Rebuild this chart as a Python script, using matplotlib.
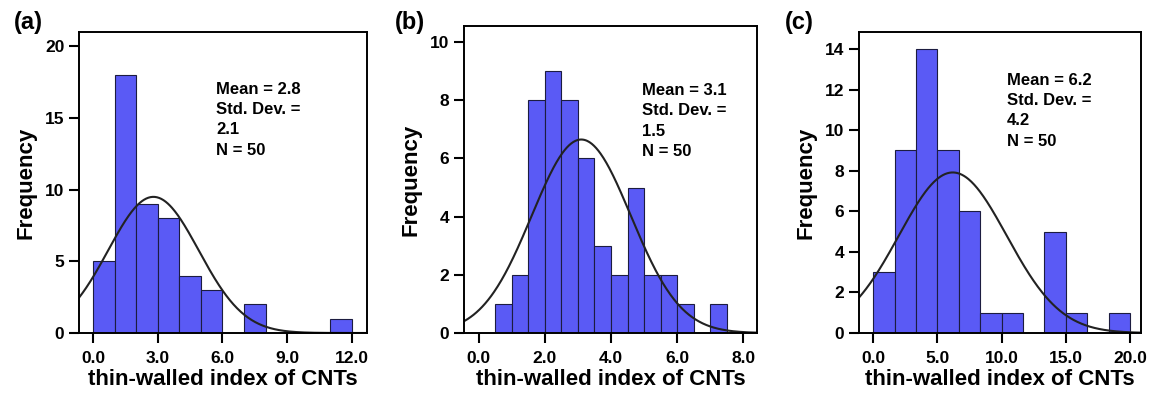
import numpy as np
import matplotlib
matplotlib.use("Agg")
import matplotlib.pyplot as plt
from matplotlib.ticker import FormatStrFormatter

plt.rcParams['font.family'] = ['Liberation Sans', 'DejaVu Sans']
plt.rcParams['font.weight'] = 'bold'

# panel (a)
edges_a = np.arange(0, 13, 1.0)
counts_a = [5, 18, 9, 8, 4, 3, 0, 2, 0, 0, 0, 1]
mean_a, sd_a, n_a = 2.8, 2.1, 50

# panel (b)
edges_b = np.arange(0.5, 7.51, 0.5)
counts_b = [1, 2, 8, 9, 8, 6, 3, 2, 5, 2, 2, 1, 0, 1]
mean_b, sd_b, n_b = 3.1, 1.5, 50

# panel (c)
edges_c = np.linspace(0, 20, 13)
counts_c = [3, 9, 14, 9, 6, 1, 1, 0, 5, 1, 0, 1]
mean_c, sd_c, n_c = 6.2, 4.2, 50

# label, edges, counts, mean, sd, n, xlim, ylim, xticks, yticks, axes box (px), stats text pos, panel label x
panels = [
    ("(a)", edges_a, counts_a, mean_a, sd_a, n_a, (-0.65, 12.7), (0, 21.0),
     [0, 3, 6, 9, 12], [0, 5, 10, 15, 20], [79, 367, 32, 333], (0.476, 0.835), 14),
    ("(b)", edges_b, counts_b, mean_b, sd_b, n_b, (-0.45, 8.42), (0, 10.55),
     [0, 2, 4, 6, 8], [0, 2, 4, 6, 8, 10], [464, 757, 26, 333], (0.607, 0.815), 395),
    ("(c)", edges_c, counts_c, mean_c, sd_c, n_c, (-1.1, 20.86), (0, 14.84),
     [0, 5, 10, 15, 20], [0, 2, 4, 6, 8, 10, 12, 14], [859, 1141, 32, 333], (0.525, 0.865), 785),
]

W, H = 1149, 394
fig = plt.figure(figsize=(W / 100, H / 100), dpi=100)

for lab, edges, counts, mu, sd, n, xl, yl, xt, yt, box, tpos, lx in panels:
    l, r, t, b = box
    ax = fig.add_axes([l / W, 1 - b / H, (r - l) / W, (b - t) / H])
    widths = np.diff(edges)
    ax.bar(edges[:-1], counts, width=widths, align='edge', color='#5a5af5',
           edgecolor='#1c1c40', linewidth=0.8)
    xs = np.linspace(xl[0], xl[1], 400)
    bw = widths[0]
    ys = n * bw / (sd * np.sqrt(2 * np.pi)) * np.exp(-0.5 * ((xs - mu) / sd) ** 2)
    ax.plot(xs, ys, color='#222222', lw=1.5)
    ax.set_xlim(*xl)
    ax.set_ylim(*yl)
    ax.set_xticks(xt)
    ax.set_yticks(yt)
    ax.xaxis.set_major_formatter(FormatStrFormatter('%.1f'))
    ax.tick_params(direction='out', length=7, width=1.5, labelsize=12.5)
    ax.tick_params(axis='x', pad=6)
    for s in ax.spines.values():
        s.set_linewidth(1.4)
    ax.set_ylabel('Frequency', fontsize=16, fontweight='bold', labelpad=6)
    ax.set_xlabel('thin-walled index of CNTs', fontsize=16, fontweight='bold', labelpad=2)
    ax.text(tpos[0], tpos[1], "Mean = %.1f\nStd. Dev. =\n%.1f\nN = %d" % (mu, sd, n),
            transform=ax.transAxes, fontsize=12, fontweight='bold',
            va='top', ha='left', linespacing=1.45)
    fig.text(lx / W, 1 - 23 / H, lab, fontsize=17, fontweight='bold',
             ha='left', va='center')

fig.savefig('out.png', dpi=100)
